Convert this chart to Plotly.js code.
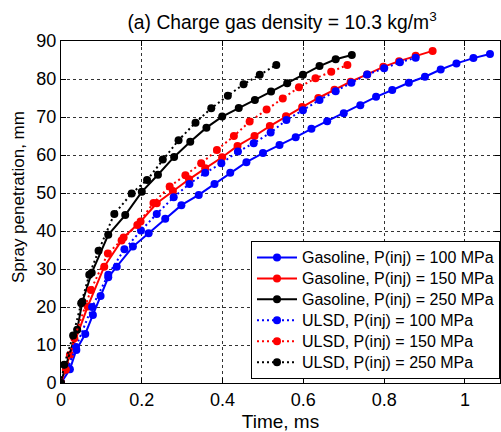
<!DOCTYPE html>
<html>
<head>
<meta charset="utf-8">
<script src="https://cdn.plot.ly/plotly-3.0.1.min.js"></script>
<style>html,body{margin:0;padding:0;background:#fff;}#chart{width:501px;height:432px;}</style>
</head>
<body>
<div id="chart"></div>
<script>
// Time (ms) and spray penetration (mm) per series
const gas100T = [0,0.022,0.038,0.060,0.079,0.098,0.117,0.138,0.178,0.217,0.258,0.298,0.341,0.380,0.419,0.459,0.500,0.541,0.581,0.620,0.659,0.700,0.741,0.780,0.820,0.861,0.901,0.940,0.979,1.021,1.062];
const gas100Y = [0,3.6,8.7,12.9,17.9,22.9,27.8,30.6,35.9,39.4,43.2,46.8,49.5,52.4,55.3,58.1,60.5,62.6,64.7,66.9,68.9,71.0,73.1,75.3,77.1,79.0,80.6,82.5,84.1,85.5,86.6];

const gas150T = [0,0.022,0.066,0.107,0.155,0.197,0.237,0.277,0.317,0.357,0.399,0.437,0.479,0.517,0.557,0.597,0.637,0.677,0.717,0.758,0.798,0.837,0.878,0.920];
const gas150Y = [0,7.4,20.1,30.6,38.3,42.5,47.3,50.5,53.6,56.5,59.4,62.4,65.0,67.6,70.2,72.6,75.0,77.2,79.3,81.2,83.2,84.7,86.1,87.4];

const gas250T = [0,0.012,0.040,0.053,0.076,0.117,0.159,0.200,0.240,0.280,0.320,0.360,0.399,0.440,0.480,0.520,0.560,0.599,0.640,0.680,0.720];
const gas250Y = [0,4.6,14.0,21.4,29.0,39.0,44.2,50.3,54.8,59.5,63.5,67.2,70.1,72.4,74.5,76.7,78.9,81.1,83.4,85.2,86.3];

const ulsd100T = [0,0.017,0.037,0.077,0.117,0.157,0.198,0.237,0.279,0.318,0.357,0.397,0.438,0.477,0.519,0.558,0.599,0.640,0.680,0.719,0.758,0.800,0.839,0.878];
const ulsd100Y = [0,4.0,9.5,20.0,28.5,35.2,40.1,44.5,48.9,52.4,55.3,57.8,60.9,63.1,65.9,69.2,71.8,74.5,76.8,79.0,81.2,82.8,84.4,85.6];

const ulsd150T = [0,0.012,0.033,0.074,0.116,0.150,0.189,0.229,0.269,0.308,0.347,0.386,0.428,0.467,0.509,0.549,0.589,0.630,0.669,0.709];
const ulsd150Y = [0,3.5,11.8,24.5,34.1,37.5,41.6,47.4,51.7,54.7,57.8,61.3,65.0,68.8,72.0,74.9,77.8,80.2,81.9,83.7];

const ulsd250T = [0,0.008,0.030,0.050,0.070,0.093,0.132,0.175,0.213,0.252,0.291,0.333,0.372,0.413,0.452,0.492,0.533];
const ulsd250Y = [0,4.8,12.5,21.0,28.5,34.8,44.5,49.9,53.4,58.8,63.9,68.5,72.3,75.6,78.6,81.1,83.7];

const names = ['Gasoline, P(inj) = 100 MPa','Gasoline, P(inj) = 150 MPa','Gasoline, P(inj) = 250 MPa',
               'ULSD, P(inj) = 100 MPa','ULSD, P(inj) = 150 MPa','ULSD, P(inj) = 250 MPa'];
const xTicks = [0,0.2,0.4,0.6,0.8,1];
const xTickText = ['0','0.2','0.4','0.6','0.8','1'];
const yTicks = [0,10,20,30,40,50,60,70,80,90];

const FONT = 'Arial';
function tr(x, y, name, color, dash) {
  return {
    x: x, y: y, name: '<span style="font-size:16px">' + name + '</span>',
    type: 'scatter', mode: 'lines+markers',
    line: {color: color, width: 2, dash: dash},
    marker: {color: color, size: 8, symbol: 'circle'}
  };
}
const data = [
  tr(gas100T, gas100Y, names[0], '#0000ff', 'solid'),
  tr(gas150T, gas150Y, names[1], '#ff0000', 'solid'),
  tr(gas250T, gas250Y, names[2], '#000000', 'solid'),
  tr(ulsd100T, ulsd100Y, names[3], '#0000ff', '2px,3px'),
  tr(ulsd150T, ulsd150Y, names[4], '#ff0000', '2px,3px'),
  tr(ulsd250T, ulsd250Y, names[5], '#000000', '2px,3px')
];
const axisCommon = {
  showline: true, linecolor: '#000', linewidth: 1, mirror: 'ticks',
  ticks: 'inside', ticklen: 5, tickcolor: '#000',
  showgrid: true, gridcolor: '#333', griddash: 'dot', gridwidth: 1,
  zeroline: false, tickfont: {family: FONT, size: 18, color: '#000'}
};
const layout = {
  width: 501, height: 432, autosize: false,
  paper_bgcolor: '#fff', plot_bgcolor: '#fff',
  margin: {l: 61, r: 1, t: 41, b: 49, pad: 0},
  font: {family: FONT, size: 16, color: '#000'},
  title: {text: '(a) Charge gas density = 10.3 kg/m<sup>3</sup>', font: {family: FONT, size: 19.3, color: '#000'},
          x: 0.563, xanchor: 'center', y: 0.948, yanchor: 'middle'},
  xaxis: Object.assign({}, axisCommon, {
    range: [0, 1.0868], tickvals: xTicks, ticktext: xTickText,
    title: {text: 'Time, ms', font: {family: FONT, size: 19, color: '#000'}, standoff: 7}
  }),
  yaxis: Object.assign({}, axisCommon, {range: [0, 90], tickvals: yTicks}),
  annotations: [{
    text: 'Spray penetration, mm', textangle: -90, showarrow: false,
    xref: 'paper', yref: 'paper', x: -0.097, y: 0.545, xanchor: 'center', yanchor: 'middle',
    font: {family: FONT, size: 17, color: '#000'}
  }],
  legend: {
    x: 1, xanchor: 'right', y: 0.0117, yanchor: 'bottom',
    bgcolor: '#fff', bordercolor: '#000', borderwidth: 1,
    font: {family: FONT, size: 13.8, color: '#000'},
    itemwidth: 40, tracegroupgap: 0
  },
  showlegend: true
};
Plotly.newPlot('chart', data, layout, {displayModeBar: false, staticPlot: true});
</script>
</body>
</html>
